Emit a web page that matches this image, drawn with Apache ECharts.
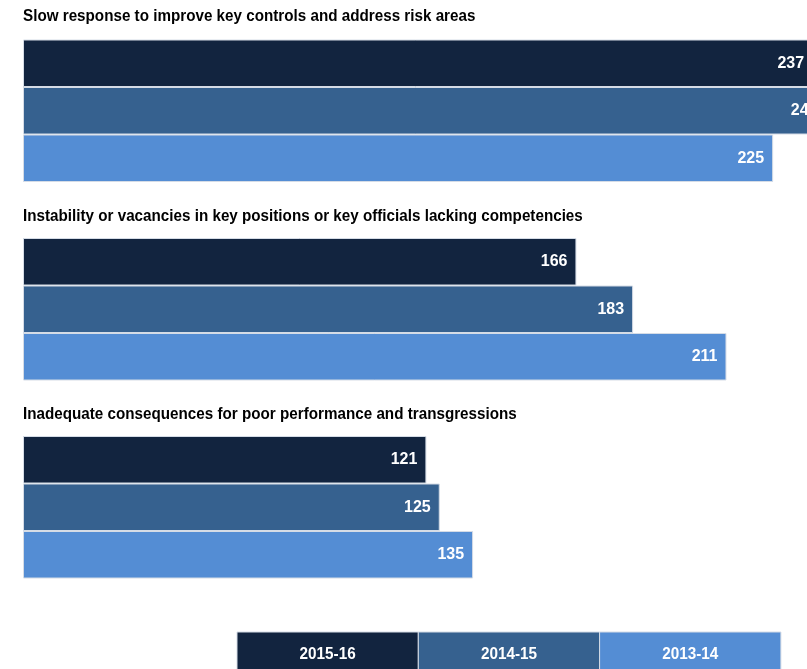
<!DOCTYPE html>
<html>
<head>
<meta charset="utf-8">
<script src="https://cdn.jsdelivr.net/npm/echarts@6/dist/echarts.min.js"></script>
<style>html,body{margin:0;padding:0;background:#fff;}#c{width:807px;height:669px;}</style>
</head>
<body>
<div id="c"></div>
<script>
const categories = [
  "Slow response to improve key controls and address risk areas",
  "Instability or vacancies in key positions or key officials lacking competencies",
  "Inadequate consequences for poor performance and transgressions"
];
const years = ["2015-16", "2014-15", "2013-14"];
const values2015_16 = [237, 166, 121];
const values2014_15 = [241, 183, 125];
const values2013_14 = [225, 211, 135];

const seriesValues = [values2015_16, values2014_15, values2013_14];
const colors = ["#12243F", "#36618F", "#548DD4"];
const FONT = "'Liberation Sans Narrow', 'Arial Narrow', 'Liberation Sans', Arial, sans-serif";

const gridTops = [39.5, 238, 436];
const titleCenters = [16.5, 216, 414.5];
const barBlock = 142.5;

const chart = echarts.init(document.getElementById('c'), null, {renderer: 'canvas'});

const grids = [], xAxes = [], yAxes = [], series = [], graphics = [];
categories.forEach((cat, g) => {
  graphics.push({
    type: 'text', x: 23, y: titleCenters[g], scaleX: 0.895, silent: true,
    style: {text: cat, fill: '#000', font: "bold 17px " + FONT, textAlign: 'left', textVerticalAlign: 'middle'}
  });
  grids.push({left: 23, top: gridTops[g], width: 833.5, height: barBlock, outerBoundsMode: 'none', containLabel: false});
  xAxes.push({type: 'value', gridIndex: g, min: 0, max: 250, show: false});
  yAxes.push({type: 'category', gridIndex: g, data: [cat], inverse: true, show: false});
  years.forEach((yr, s) => {
    series.push({
      type: 'bar', name: yr, xAxisIndex: g, yAxisIndex: g,
      data: [seriesValues[s][g]],
      barGap: '0%', barCategoryGap: '0%',
      itemStyle: {color: colors[s], borderColor: '#d5dce6', borderWidth: 1},
      label: {
        show: true, position: 'insideRight', distance: 9,
        color: '#fff', fontFamily: FONT, fontWeight: 'bold', fontSize: 16
      },
      silent: true, animation: false
    });
  });
});

const legLeft = 237, legW = 181.3, legTop = 632, legH = 40;
years.forEach((yr, i) => {
  graphics.push({
    type: 'rect', x: legLeft + i * legW, y: legTop, silent: true,
    shape: {x: 0, y: 0, width: legW, height: legH},
    style: {fill: colors[i], stroke: '#d5dce6', lineWidth: 1}
  });
  graphics.push({
    type: 'text', x: legLeft + i * legW + legW / 2, y: 654, scaleX: 0.9, silent: true,
    style: {text: yr, fill: '#fff', font: "bold 17px " + FONT, textAlign: 'center', textVerticalAlign: 'middle'}
  });
});

chart.setOption({
  animation: false,
  grid: grids,
  xAxis: xAxes,
  yAxis: yAxes,
  series: series,
  graphic: graphics
});
</script>
</body>
</html>
